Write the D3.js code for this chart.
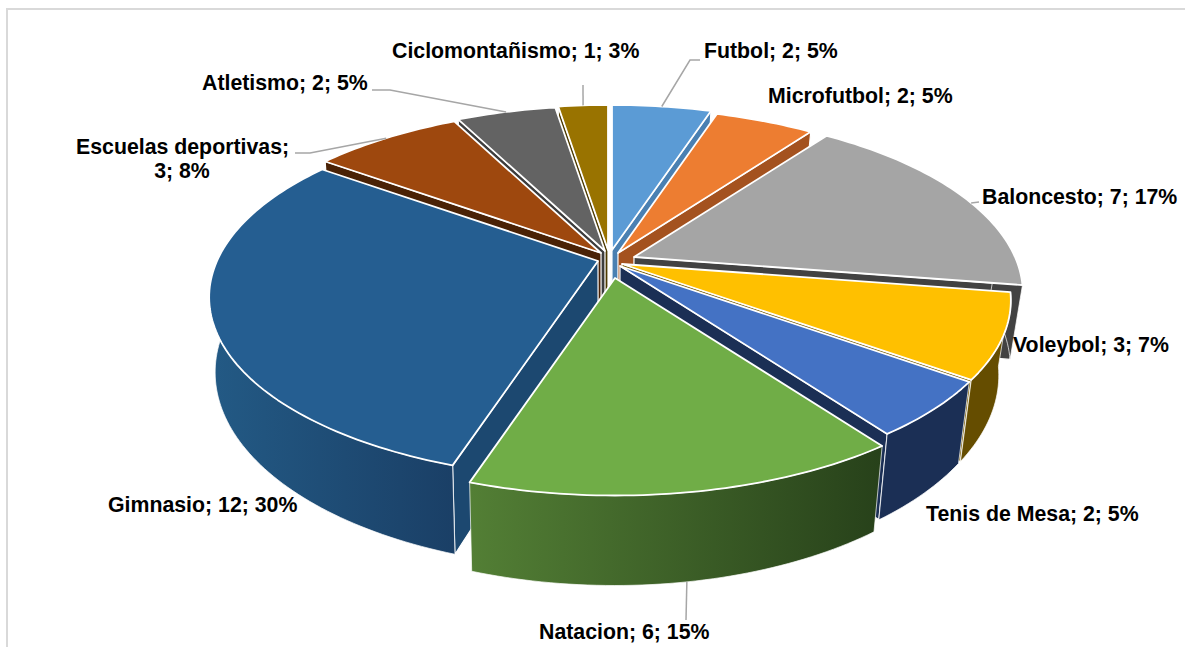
<!DOCTYPE html>
<html>
<head>
<meta charset="utf-8">
<script src="https://cdn.jsdelivr.net/npm/d3@7"></script>
<style>
    html, body { margin: 0; padding: 0; background: #fff; overflow: hidden; }
    svg { display: block; }
    text { font-family: "Liberation Sans", Arial, sans-serif; font-weight: bold; font-size: 21.3px; fill: #000; }
</style>
</head>
<body>
<div id="root"></div>
<script>
// data
const categories = ["Futbol", "Microfutbol", "Baloncesto", "Voleybol", "Tenis de Mesa", "Natacion", "Gimnasio", "Escuelas deportivas", "Atletismo", "Ciclomontañismo"];
const values = [2, 2, 7, 3, 2, 6, 12, 3, 2, 1];
const percents = [5, 5, 17, 7, 5, 15, 30, 8, 5, 3];

// colours
const topColors = ["#5b9bd5", "#ed7d31", "#a5a5a5", "#ffc000", "#4472c4", "#70ad47", "#255e91", "#9e480e", "#636363", "#997300"];
const wallLeft = ["#3f75a6", "#a4521f", "#424242", "#654d00", "#1b2f55", "#537f35", "#235a85", "#5e2b08", "#3d3d3d", "#5c4500"];
const wallRight = ["#3f75a6", "#a4521f", "#424242", "#654d00", "#1b2f55", "#27411a", "#1a3f66", "#5e2b08", "#3d3d3d", "#5c4500"];
const sideColors = ["#4a80b2", "#a4521f", "#424242", "#7a5c00", "#1b2f55", "#3a5a24", "#1c4870", "#4a2206", "#3d3d3d", "#4d3a00"];

// how far each slice is pulled out of the pie, px
const pullX = [3, 9, 25, 13, 11, 6, -11, -8, -4, -1];
const pullY = [-12, -9, -5, 2, 4, 16, -1, -9, -11, -12];

const w = 1185;
const h = 647;
const cx = 609, cy = 262;
const rx = 381, ry = 174;
const persp = 0.2;
const depth = 72;
// bottom face is a little narrower than the top, less so on the left
const shrinkLeft = 0.985, shrinkRight = 0.97;

const svg = d3.select("#root").append("svg").attr("width", w).attr("height", h);
const defs = svg.append("defs");

// chart frame, cut by the right and bottom of the picture
svg.append("rect")
    .attr("x", 7).attr("y", 9)
    .attr("width", w + 20).attr("height", h + 20)
    .attr("fill", "#fff")
    .attr("stroke", "#d9d9d9")
    .attr("stroke-width", 2);

const slices = d3.pie().sort(null)(values).map((d, i) => {
    return {
        i: i,
        start: d.startAngle,
        end: d.endAngle,
        mid: (d.startAngle + d.endAngle) / 2,
        ax: cx + pullX[i],
        ay: cy + pullY[i]
    };
});

// point on the top face, r = 0 apex, r = 1 rim
function topPoint(s, a, r) {
    const t = r * Math.cos(a);
    const f = 1 / (1 + persp * t);
    return [s.ax + rx * r * Math.sin(a) * f, s.ay - ry * t * f];
}

// same point pushed down to the bottom face
function bottomPoint(s, a, r) {
    const p = topPoint(s, a, r);
    const f = 1 / (1 + persp * r * Math.cos(a));
    const k = p[0] < cx ? shrinkLeft : shrinkRight;
    return [cx + (p[0] - cx) * k, p[1] + depth * f];
}

function rimAngles(s) {
    const n = Math.ceil((s.end - s.start) / 0.02);
    return d3.range(n + 1).map(k => s.start + (s.end - s.start) * k / n);
}

const line = d3.line();
const closed = pts => line(pts) + "Z";

// far slices first so the nearer ones cover them
const order = slices.slice().sort((a, b) => Math.cos(b.mid) - Math.cos(a.mid));

const pie3d = svg.append("g").attr("id", "pie");

order.forEach(s => {
    const g = pie3d.append("g");
    const angs = rimAngles(s);

    // cut faces, only the one that hangs below the top face
    const cuts = [];
    if (s.end < Math.PI) cuts.push(s.end);
    if (s.start > Math.PI) cuts.push(s.start);
    cuts.forEach(a => {
        g.append("path")
            .attr("d", closed([topPoint(s, a, 0), topPoint(s, a, 1), bottomPoint(s, a, 1), bottomPoint(s, a, 0)]))
            .attr("fill", sideColors[s.i])
            .attr("stroke", "#fff")
            .attr("stroke-width", 1.2)
            .attr("stroke-linejoin", "round");
    });

    // outer wall, only the part looking at the viewer
    const front = angs.filter(a => Math.cos(a) < 0.15);
    if (front.length > 1) {
        const pts = front.map(a => topPoint(s, a, 1)).concat(front.slice().reverse().map(a => bottomPoint(s, a, 1)));
        const xs = d3.extent(pts, p => p[0]);
        const id = "wall" + s.i;
        const grad = defs.append("linearGradient")
            .attr("id", id)
            .attr("gradientUnits", "userSpaceOnUse")
            .attr("x1", xs[0]).attr("x2", xs[1])
            .attr("y1", 0).attr("y2", 0);
        grad.append("stop").attr("offset", 0).attr("stop-color", wallLeft[s.i]);
        grad.append("stop").attr("offset", 1).attr("stop-color", wallRight[s.i]);
        g.append("path")
            .attr("d", closed(pts))
            .attr("fill", "url(#" + id + ")")
            .attr("stroke", "#fff")
            .attr("stroke-opacity", 0.7)
            .attr("stroke-width", 1);
    }

    // top face
    g.append("path")
        .attr("d", closed([topPoint(s, s.start, 0)].concat(angs.map(a => topPoint(s, a, 1)))))
        .attr("fill", topColors[s.i])
        .attr("stroke", "#fff")
        .attr("stroke-width", 1.8)
        .attr("stroke-linejoin", "round");
});

// labels: x, baseline; lead = points from the label to the rim
const labelX = [704, 768, 982, 1013, 926, 539, 108, 76, 202, 392];
const labelY = [58, 103, 204, 352, 521, 639, 512, 154, 90, 58];
const leadElbows = [
    [[700, 60], [690, 60]],
    null,
    [[979, 202]],
    null,
    null,
    [[686, 620]],
    null,
    [[295, 153], [310, 153]],
    [[372, 90], [390, 90]],
    [[583, 85]]
];

const labels = svg.append("g").attr("id", "labels");

slices.forEach(s => {
    if (!leadElbows[s.i]) return;
    // baloncesto's tick sits a bit past the middle of the slice
    const a = s.i === 2 ? s.mid + 0.055 : s.mid;
    // natacion hangs from the bottom edge, the others from the top rim
    const end = Math.cos(a) < -0.5 ? bottomPoint(s, a, 1) : topPoint(s, a, 1);
    labels.append("path")
        .attr("d", line(leadElbows[s.i].concat([end])))
        .attr("fill", "none")
        .attr("stroke", "#a6a6a6")
        .attr("stroke-width", 1.5);
});

categories.forEach((c, i) => {
    if (c === "Escuelas deportivas") {
        labels.append("text").attr("x", labelX[i]).attr("y", labelY[i]).text(c + ";");
        labels.append("text").attr("x", 182).attr("y", labelY[i] + 24).attr("text-anchor", "middle")
            .text(values[i] + "; " + percents[i] + "%");
    } else {
        labels.append("text").attr("x", labelX[i]).attr("y", labelY[i])
            .text(c + "; " + values[i] + "; " + percents[i] + "%");
    }
});
</script>
</body>
</html>
